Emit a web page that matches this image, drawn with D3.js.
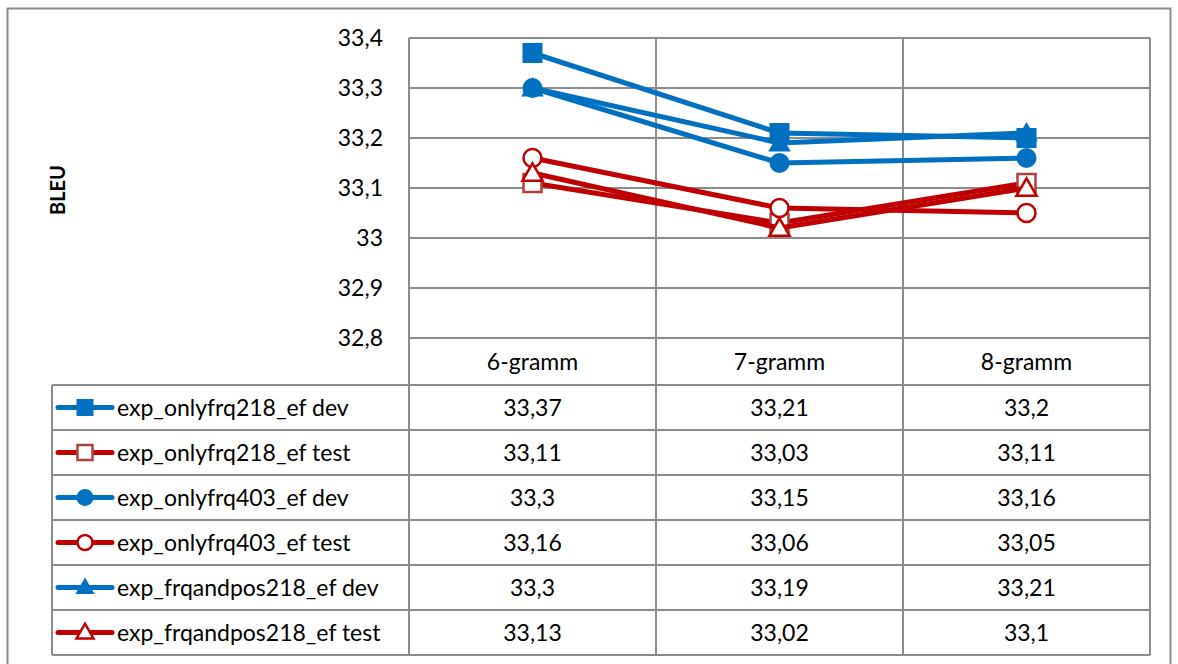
<!DOCTYPE html>
<html>
<head>
<meta charset="utf-8">
<script src="https://cdn.jsdelivr.net/npm/d3@7"></script>
<style>
body { margin: 0; background: white; }
text { font-family: Lato, "Open Sans", sans-serif; fill: #000; }
</style>
</head>
<body>
<script>
var categories = ["6-gramm", "7-gramm", "8-gramm"];
var seriesNames = ["exp_onlyfrq218_ef dev", "exp_onlyfrq218_ef test", "exp_onlyfrq403_ef dev",
                   "exp_onlyfrq403_ef test", "exp_frqandpos218_ef dev", "exp_frqandpos218_ef test"];
var seriesValues = [
  [33.37, 33.21, 33.2],
  [33.11, 33.03, 33.11],
  [33.3, 33.15, 33.16],
  [33.16, 33.06, 33.05],
  [33.3, 33.19, 33.21],
  [33.13, 33.02, 33.1]
];
var seriesColor = ["#0070c0", "#c00000", "#0070c0", "#c00000", "#0070c0", "#c00000"];
var seriesMarker = ["square", "square", "circle", "circle", "triangle", "triangle"];
var seriesHollow = [false, true, false, true, false, true];
var yTicks = [32.8, 32.9, 33, 33.1, 33.2, 33.3, 33.4];
var yTitle = "BLEU";

var width = 1178, height = 664;
var plotLeft = 409, plotRight = 1150, plotTop = 38, plotBottom = 338;
var tableLeft = 52, rowH = 45, tableTop = 385;
var grid = "#8c8c8c";
var fs = "23px";

var loc = d3.formatLocale({decimal: ",", thousands: ".", grouping: [3], currency: ["", ""]});
var fmt = loc.format("~g");

var svg = d3.select("body").append("svg").attr("width", width).attr("height", height);

// outer chart frame
svg.append("rect").attr("x", 7.5).attr("y", 8.5).attr("width", 1163).attr("height", 660)
  .attr("fill", "none").attr("stroke", grid).attr("stroke-width", 2);

var x = d3.scaleBand().domain(categories).range([plotLeft, plotRight]).padding(0);
var y = d3.scaleLinear().domain([32.8, 33.4]).range([plotBottom, plotTop]);

// horizontal grid
svg.append("g").selectAll("line").data(yTicks).enter().append("line")
  .attr("x1", plotLeft).attr("x2", plotRight)
  .attr("y1", function(d){ return y(d); }).attr("y2", function(d){ return y(d); })
  .attr("stroke", grid).attr("stroke-width", 2);

// vertical lines through plot and table
var tableBottom = tableTop + rowH * seriesNames.length;
var vx = categories.map(function(c){ return x(c); }).concat([plotRight]);
svg.append("g").selectAll("line").data(vx).enter().append("line")
  .attr("x1", function(d){ return d; }).attr("x2", function(d){ return d; })
  .attr("y1", plotTop).attr("y2", tableBottom)
  .attr("stroke", grid).attr("stroke-width", 2);

// table rows
var rowLines = d3.range(seriesNames.length + 1).map(function(i){ return tableTop + i * rowH; });
svg.append("g").selectAll("line").data(rowLines).enter().append("line")
  .attr("x1", tableLeft).attr("x2", plotRight)
  .attr("y1", function(d){ return d; }).attr("y2", function(d){ return d; })
  .attr("stroke", grid).attr("stroke-width", 2);
svg.append("line").attr("x1", tableLeft).attr("x2", tableLeft).attr("y1", tableTop).attr("y2", tableBottom)
  .attr("stroke", grid).attr("stroke-width", 2);

// y axis labels
var yAxis = d3.axisLeft(y).tickValues(yTicks).tickSize(0).tickPadding(26).tickFormat(fmt);
var ya = svg.append("g").attr("transform", "translate(" + plotLeft + ",0)").call(yAxis);
ya.select(".domain").remove();
ya.selectAll("text").style("font-family", "Lato, sans-serif").style("font-size", fs).attr("fill", "#000");

svg.append("text").attr("transform", "translate(65,190) rotate(-90)")
  .attr("text-anchor", "middle").style("font-size", "20px").style("font-weight", "bold").text(yTitle);

// category header
svg.append("g").selectAll("text").data(categories).enter().append("text")
  .attr("x", function(d){ return x(d) + x.bandwidth() / 2; })
  .attr("y", (plotBottom + tableTop) / 2 + 8)
  .attr("text-anchor", "middle").style("font-size", fs).text(function(d){ return d; });

function markerPath(type, s) {
  var sym = type === "square" ? d3.symbolSquare : type === "circle" ? d3.symbolCircle : d3.symbolTriangle;
  var area = type === "square" ? s * s : type === "circle" ? Math.PI * s * s / 4 : s * s * 0.55;
  return d3.symbol().type(sym).size(area)();
}

var line = d3.line()
  .x(function(d, i){ return x(categories[i]) + x.bandwidth() / 2; })
  .y(function(d){ return y(d); });

// series lines + markers
seriesValues.forEach(function(vals, si) {
  var g = svg.append("g");
  g.append("path").attr("d", line(vals)).attr("fill", "none")
    .attr("stroke", seriesColor[si]).attr("stroke-width", 5).attr("stroke-linejoin", "round");
  g.selectAll("path.m").data(vals).enter().append("path").attr("class", "m")
    .attr("d", markerPath(seriesMarker[si], seriesHollow[si] ? 18 : 20))
    .attr("transform", function(d, i){
      var dy = seriesMarker[si] === "triangle" ? 2 : 0;
      return "translate(" + (x(categories[i]) + x.bandwidth() / 2) + "," + (y(d) + dy) + ")";
    })
    .attr("fill", seriesHollow[si] ? "#fff" : seriesColor[si])
    .attr("stroke", seriesHollow[si] ? (seriesMarker[si] === "square" ? "#b0403c" : seriesColor[si]) : "none")
    .attr("stroke-width", 2.5);
});

// legend rows with values
seriesNames.forEach(function(name, si) {
  var cy = tableTop + si * rowH + rowH / 2;
  var g = svg.append("g");
  g.append("line").attr("x1", 58).attr("x2", 112).attr("y1", cy).attr("y2", cy)
    .attr("stroke", seriesColor[si]).attr("stroke-width", 5).attr("stroke-linecap", "round");
  g.append("path").attr("d", markerPath(seriesMarker[si], seriesHollow[si] ? 15 : 17))
    .attr("transform", "translate(85," + (cy + (seriesMarker[si] === "triangle" ? 1 : 0)) + ")")
    .attr("fill", seriesHollow[si] ? "#fff" : seriesColor[si])
    .attr("stroke", seriesHollow[si] ? (seriesMarker[si] === "square" ? "#b0403c" : seriesColor[si]) : "none")
    .attr("stroke-width", 2.5);
  g.append("text").attr("x", 117).attr("y", cy + 8).style("font-size", fs).text(name);
  g.selectAll("text.v").data(seriesValues[si]).enter().append("text").attr("class", "v")
    .attr("x", function(d, i){ return x(categories[i]) + x.bandwidth() / 2; })
    .attr("y", cy + 8).attr("text-anchor", "middle").style("font-size", fs)
    .text(function(d){ return fmt(d); });
});
</script>
</body>
</html>
